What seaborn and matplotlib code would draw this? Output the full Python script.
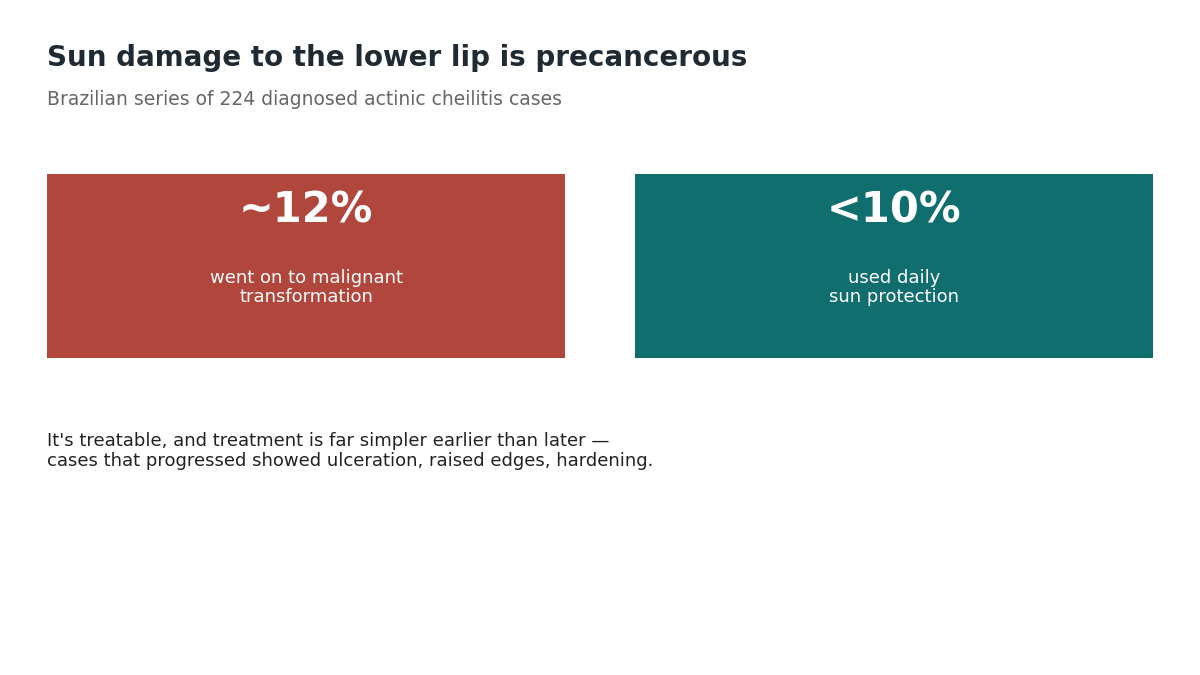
import matplotlib
matplotlib.use("Agg")
import matplotlib.pyplot as plt
import seaborn as sns
import pandas as pd

title = "Sun damage to the lower lip is precancerous"
subtitle = "Brazilian series of 224 diagnosed actinic cheilitis cases"
footer = ("It's treatable, and treatment is far simpler earlier than later \u2014\n"
          "cases that progressed showed ulceration, raised edges, hardening.")

stats = ["~12%", "<10%"]
labels = ["went on to malignant\ntransformation", "used daily\nsun protection"]
card_colors = ["#b0463c", "#116e6e"]

sns.set_theme(style="white")
plt.rcParams['font.family'] = ['DejaVu Sans']

df = pd.DataFrame({"stat": stats, "h": [1, 1]})

fig = plt.figure(figsize=(12, 6.75), dpi=100)
ax = fig.add_axes([0.01, 0.4696, 0.98, 0.2726])

sns.barplot(data=df, x="stat", y="h", hue="stat", palette=card_colors,
            width=0.881, legend=False, ax=ax, saturation=1, linewidth=0)
ax.set_xlim(-0.5, 1.5)
ax.set_ylim(0, 1)
ax.axis("off")

for i, (s, lab) in enumerate(zip(stats, labels)):
    ax.text(i, 0.804, s, ha="center", va="center", color="white",
            fontsize=30, fontweight="bold")
    ax.text(i, 0.383, lab, ha="center", va="center", color="white",
            fontsize=13, linespacing=1.1)

fig.text(0.0392, 0.914, title, ha="left", va="center", fontsize=20,
         fontweight="bold", color="#1f2a33")
fig.text(0.0392, 0.852, subtitle, ha="left", va="center", fontsize=13.5,
         color="#666666")
fig.text(0.0392, 0.332, footer, ha="left", va="center", fontsize=13,
         color="#222222", linespacing=1.1)

fig.savefig("out.png", dpi=100, facecolor="white")
